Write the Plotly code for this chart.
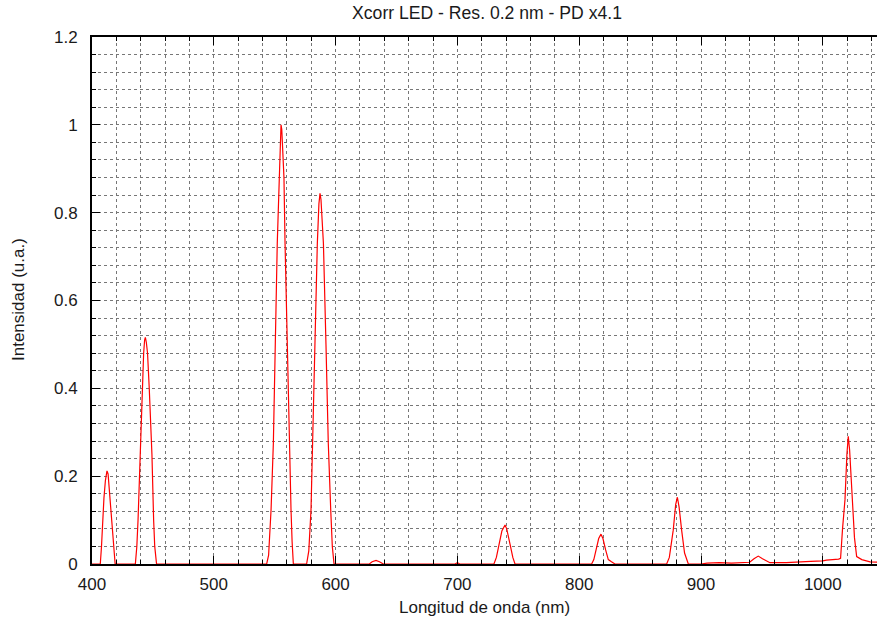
import plotly.graph_objects as go

# Wavelength (nm) and normalized intensity (u.a.)
wavelength = [
    400, 406.8, 407.8, 408.7, 409.8, 411.0, 412.3, 413.2, 414.2, 415.3, 416.4, 417.5, 419.0,
    435.6, 436.8, 437.8, 438.8, 439.7, 441.0, 442.4, 443.2, 443.8, 444.6, 445.6, 447.0, 448.2,
    449.2, 450.6, 451.5, 453.0,
    543.4, 545.0, 546.0, 547.0, 548.9, 550.2, 551.2, 552.1, 553.8, 554.6, 555.2, 555.8, 556.6,
    557.6, 558.5, 559.3, 560.3, 562.0, 563.4, 564.3, 565.3,
    576.2, 578.0, 579.8, 581.1, 582.5, 585.0, 586.3, 587.2, 588.0, 589.0, 590.0, 592.1, 594.0,
    596.0, 597.3, 598.7,
    627.7, 630.0, 633.2, 636.0, 639.2,
    698.0, 700.0, 702.0,
    730.0, 732.0, 734.4, 736.5, 739.1, 740.5, 743.2, 745.5, 747.3,
    810.2, 812.0, 813.8, 816.0, 817.9, 819.5, 821.7, 823.9, 826.5, 829.4,
    871.8, 874.0, 877.2, 879.2, 880.6, 882.0, 884.1, 886.5, 889.6,
    900.0, 905.0, 915.0, 925.0, 935.0, 940.0, 943.5, 947.0, 950.5, 956.6, 970.0, 985.0, 990.0,
    1000.0, 1003.0, 1013.0, 1014.6, 1016.2, 1018.2, 1019.8, 1020.9, 1022.0, 1024.2, 1026.0,
    1027.8, 1032.0, 1038.8, 1045.0,
]
intensity = [
    0, 0, 0.04, 0.10, 0.15, 0.19, 0.212, 0.205, 0.17, 0.13, 0.10, 0.05, 0,
    0, 0.04, 0.10, 0.18, 0.25, 0.40, 0.48, 0.51, 0.516, 0.505, 0.48, 0.40, 0.32,
    0.25, 0.10, 0.04, 0,
    0, 0.02, 0.06, 0.123, 0.275, 0.50, 0.62, 0.73, 0.88, 0.96, 1.0, 0.99, 0.95,
    0.88, 0.73, 0.62, 0.50, 0.275, 0.123, 0.05, 0,
    0, 0.03, 0.123, 0.275, 0.50, 0.73, 0.82, 0.844, 0.83, 0.78, 0.73, 0.50, 0.275,
    0.123, 0.04, 0,
    0, 0.005, 0.008, 0.005, 0,
    0, 0.003, 0,
    0, 0.015, 0.045, 0.075, 0.089, 0.08, 0.045, 0.015, 0,
    0, 0.01, 0.032, 0.058, 0.068, 0.058, 0.032, 0.01, 0.005, 0,
    0, 0.015, 0.077, 0.135, 0.152, 0.13, 0.077, 0.025, 0,
    0, 0.002, 0.003, 0.002, 0.003, 0.004, 0.012, 0.018, 0.012, 0.003, 0.003, 0.004, 0.006,
    0.007, 0.009, 0.011, 0.013, 0.08, 0.146, 0.25, 0.291, 0.26, 0.146, 0.06,
    0.017, 0.01, 0.005, 0.004,
]

title_text = "Xcorr LED - Res. 0.2 nm - PD x4.1"
x_label = "Longitud de onda (nm)"
y_label = "Intensidad (u.a.)"

FONT = "Liberation Sans"
FS = 17
grid_color = "#777777"
text_color = "#1a1a1a"

fig = go.Figure()
fig.add_trace(go.Scatter(
    x=wavelength, y=intensity, mode="lines",
    line=dict(color="#ff0000", width=1.2),
    hoverinfo="skip", showlegend=False,
))

fig.update_layout(
    width=877, height=624,
    margin=dict(l=92, r=0, t=37, b=60),
    paper_bgcolor="white", plot_bgcolor="white",
    font=dict(family=FONT, size=FS, color=text_color),
    title=dict(text=title_text, x=(487 - 92) / 785, xref="paper", xanchor="center",
               y=1 - 13 / 624, yref="container", yanchor="middle",
               font=dict(family=FONT, size=17.6, color=text_color)),
    xaxis=dict(
        range=[400, 400 + 785 / 1.218],
        tick0=400, dtick=100,
        ticks="inside", ticklen=8, tickwidth=1, tickcolor="black",
        showline=True, linecolor="black", linewidth=2, mirror="ticks",
        showgrid=True, gridcolor=grid_color, griddash="dot", gridwidth=1,
        zeroline=False, ticklabelstandoff=4,
        minor=dict(dtick=20, ticks="inside", ticklen=4, tickcolor="black",
                   showgrid=True, gridcolor=grid_color, griddash="dot", gridwidth=1),
        tickfont=dict(family=FONT, size=FS, color=text_color),
    ),
    yaxis=dict(
        range=[0, 1.2],
        tick0=0, dtick=0.2,
        ticks="inside", ticklen=8, tickwidth=1, tickcolor="black",
        showline=True, linecolor="black", linewidth=2, mirror=False,
        showgrid=True, gridcolor=grid_color, griddash="dot", gridwidth=1,
        zeroline=False, ticklabelstandoff=9,
        minor=dict(dtick=0.04, ticks="inside", ticklen=4, tickcolor="black",
                   showgrid=True, gridcolor=grid_color, griddash="dot", gridwidth=1),
        tickfont=dict(family=FONT, size=FS, color=text_color),
    ),
    annotations=[
        dict(text=x_label, xref="paper", yref="paper", x=0.5, y=-(607 - 564) / 527,
             xanchor="center", yanchor="middle", showarrow=False,
             font=dict(family=FONT, size=FS, color=text_color)),
        dict(text=y_label, xref="paper", yref="paper", x=-(92 - 18) / 785, y=(564 - 300) / 527,
             xanchor="center", yanchor="middle", textangle=-90, showarrow=False,
             font=dict(family=FONT, size=FS, color=text_color)),
    ],
)

fig.write_html("out.html", config={"displayModeBar": False},
               post_script="document.body.style.margin='0';document.body.style.padding='0';")
